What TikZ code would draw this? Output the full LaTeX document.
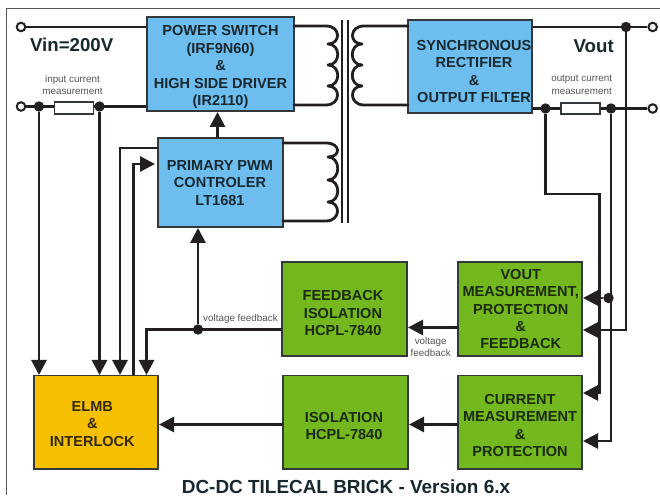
\documentclass[tikz,border=0pt]{standalone}
\usepackage{fontspec}
\setmainfont{Liberation Sans}
\usetikzlibrary{arrows.meta,calc}
\definecolor{wire}{HTML}{231F20}
\definecolor{edge}{HTML}{33393A}
\definecolor{swblue}{HTML}{6DBDEE}
\definecolor{swgreen}{HTML}{73B81F}
\definecolor{swyellow}{HTML}{F6C000}
\definecolor{inkb}{HTML}{17282F}
\definecolor{inkg}{HTML}{1C2A0E}
\definecolor{inky}{HTML}{33290A}
\definecolor{small}{HTML}{555555}
\tikzset{
  x=0.75pt,y=-0.75pt,
  block/.style={draw=edge,line width=1.2pt,inner sep=0pt},
  blue box/.style={block,fill=swblue},
  green box/.style={block,fill=swgreen},
  yellow box/.style={block,fill=swyellow},
  boxtext/.style={align=center,inner sep=0pt,font=\fontsize{10.9}{13.1}\selectfont\bfseries},
  bigtext/.style={inner sep=0pt,text=inkb,font=\fontsize{14}{16}\selectfont\bfseries},
  smalltext/.style={align=center,inner sep=0pt,text=small,font=\fontsize{7.4}{9.6}\selectfont},
  wireline/.style={draw=wire,line width=2.1pt,line join=miter},
  flow/.style={wireline,-{Triangle[length=11.25pt,width=11.25pt]}},
  coil/.style={draw=wire,line width=2.1pt,line join=round,line cap=round},
  core/.style={draw=wire,line width=1.9pt},
  terminal/.style={circle,draw=wire,fill=white,line width=1.5pt,minimum size=6.4pt,inner sep=0pt},
  dot/.style={circle,fill=wire,minimum size=7.8pt,inner sep=0pt},
  resistor/.style={draw=edge,fill=white,line width=1.2pt,minimum width=29.5pt,minimum height=8.6pt,inner sep=0pt},
}
\begin{document}
\begin{tikzpicture}
\useasboundingbox (0,0) rectangle (660,498);
\fill[white] (0,0) rectangle (660,498);
\draw[draw=small,line width=0.8pt] (660,8.5) -- (6.5,8.5) -- (6.5,495);

% terminals, junctions, resistors
\node[terminal] (inA) at (21,27) {};
\node[terminal] (inB) at (21,106.5) {};
\node[terminal] (outA) at (652.7,27) {};
\node[terminal] (outB) at (652.7,108.5) {};
\node[dot] (d1) at (39,106.5) {};
\node[dot] (d2) at (99.5,106.5) {};
\node[dot] (d3) at (545.5,108.5) {};
\node[dot] (d4) at (611,108.5) {};
\node[dot] (d5) at (626,27) {};
\node[dot] (d6) at (608.5,298) {};
\node[dot] (d7) at (198,329.5) {};

% anchor points on box edges
\coordinate (psWa) at (147,27);
\coordinate (psWb) at (147,106.5);
\coordinate (psEa) at (294,26);
\coordinate (psEb) at (294,105);
\coordinate (pwmWa) at (158,148);
\coordinate (pwmWb) at (155,164);
\coordinate (pwmEa) at (283,143);
\coordinate (pwmEb) at (283,221);
\coordinate (srWa) at (408,26);
\coordinate (srWb) at (408,105);
\coordinate (srEa) at (532,27);
\coordinate (srEb) at (532,108.5);
\coordinate (elTa) at (39,375);
\coordinate (elTb) at (99.5,375);
\coordinate (elTc) at (120,375);
\coordinate (elTd) at (133.5,375);
\coordinate (elTe) at (146.5,375);
\coordinate (fbE) at (408,327.5);
\coordinate (fbW) at (282,329.5);
\coordinate (voW) at (458,327.5);
\coordinate (voEa) at (583,298);
\coordinate (voEb) at (583,330);
\coordinate (cuEa) at (583,393);
\coordinate (cuEb) at (583,441);
\coordinate (cuW) at (458,424.5);
\coordinate (isE) at (409,424.5);
\coordinate (isW) at (283,424.5);
\coordinate (elE) at (159,424.5);
\coordinate (pwmS) at (198,228);
\coordinate (psS) at (217.5,112);
\coordinate (pwmN) at (217.5,138);

% wires under the blocks
\draw[wireline] (inA) -- (psWa);
\draw[wireline] (inB) -- (psWb);
\draw[wireline] (srEa) -- (outA);
\draw[wireline] (srEb) -- (outB);

% resistors
\node[resistor] (rin) at (74,108) {};
\node[resistor] (rout) at (580.5,108.5) {};

% blocks
\node[blue box,minimum width=110.25pt,minimum height=70.5pt] (ps) at (220.5,64) {};
\node[blue box,minimum width=93.75pt,minimum height=66.75pt] (pwm) at (220.5,182.5) {};
\node[blue box,minimum width=93pt,minimum height=69.75pt] (sr) at (470,66.5) {};
\node[yellow box,minimum width=93pt,minimum height=70.1pt] (elmb) at (96,422.3) {};
\node[green box,minimum width=93.75pt,minimum height=70.5pt] (fb) at (344.5,309) {};
\node[green box,minimum width=93.75pt,minimum height=70.1pt] (iso) at (345.5,422.3) {};
\node[green box,minimum width=93pt,minimum height=70.5pt] (vo) at (520,309) {};
\node[green box,minimum width=93pt,minimum height=70.1pt] (cu) at (520,422.3) {};

% block texts
\node[boxtext,text=inkb] (pst) at (220.5,67) {POWER SWITCH\\(IRF9N60)\\\&\\HIGH SIDE DRIVER\\(IR2110)};
\node[boxtext,text=inkb] (pwmt) at (220,183) {PRIMARY PWM\\CONTROLER\\LT1681};
\node[boxtext,text=inkb] (srt) at (474,71.7) {SYNCHRONOUS\\RECTIFIER\\\&\\OUTPUT FILTER};
\node[boxtext,text=inky] (elt) at (92.3,424) {ELMB\\\&\\INTERLOCK};
\node[boxtext,text=inkg] (fbt) at (343,313) {FEEDBACK\\ISOLATION\\HCPL-7840};
\node[boxtext,text=inkg] (ist) at (344,426) {ISOLATION\\HCPL-7840};
\node[boxtext,text=inkg] (vot) at (520.7,309) {VOUT\\MEASUREMENT,\\PROTECTION\\\&\\FEEDBACK};
\node[boxtext,text=inkg] (cut) at (520,425.5) {CURRENT\\MEASUREMENT\\\&\\PROTECTION};

% left side connectors
\draw[flow] (d1) -- (elTa);
\draw[flow] (d2) -- (elTb);
\draw[flow] (pwmWa) -- (120,148) -- (elTc);
\draw[flow] (elTd) -- (133.5,164) -- (pwmWb);
\draw[flow] (d7) -- (pwmS);
\draw[flow] (fbW) -- (146.5,329.5) -- (elTe);
\draw[flow] (pwmN) -- (psS);
\draw[flow] (isW) -- (elE);
\draw[flow] (cuW) -- (isE);
\draw[flow] (voW) -- (fbE);

% right side connectors
\draw[flow] (d3) -- (545.5,194) -- (599.5,194) -- (599.5,393) -- (cuEa);
\draw[flow] (d4) -- (611,441) -- (cuEb);
\draw[flow] (d5) -- (626,330) -- (voEb);
\draw[flow] (d6) -- (voEa);

% transformer core
\coordinate (coreAt) at (342,20);
\coordinate (coreAb) at (342,223);
\coordinate (coreBt) at (348,20);
\coordinate (coreBb) at (348,223);
\draw[core] (coreAt) -- (coreAb);
\draw[core] (coreBt) -- (coreBb);

% windings
\draw[coil] (psEa) -- (326,26)
  .. controls (341,26) and (341,44) .. (328,44)
  .. controls (341,44) and (341,65) .. (328,65)
  .. controls (341,65) and (341,86) .. (328,86)
  .. controls (341,86) and (341,105) .. (326,105) -- (psEb);
\draw[coil] (pwmEa) -- (326,143)
  .. controls (341,143) and (341,157) .. (328,157)
  .. controls (341,157) and (341,180) .. (328,180)
  .. controls (341,180) and (341,202) .. (328,202)
  .. controls (341,202) and (341,221) .. (326,221) -- (pwmEb);
\draw[coil] (srWa) -- (364,26)
  .. controls (349,26) and (349,44) .. (362,44)
  .. controls (349,44) and (349,65) .. (362,65)
  .. controls (349,65) and (349,86) .. (362,86)
  .. controls (349,86) and (349,105) .. (364,105) -- (srWb);

% free labels
\node[bigtext] (vin) at (71.7,45) {Vin=200V};
\node[bigtext] (vout) at (593.7,46) {Vout};
\node[smalltext] (lin) at (72.5,85) {input current\\measurement};
\node[smalltext] (lout) at (581.7,85) {output current\\measurement};
\node[smalltext] (lvf) at (240.5,319) {voltage feedback};
\node[smalltext] (lvf2) at (430.7,347) {voltage\\feedback};
\node[inner sep=0pt,text=inkb,font=\fontsize{14.2}{16}\selectfont\bfseries] (title) at (346,486.7) {DC-DC TILECAL BRICK - Version 6.x};
\end{tikzpicture}
\end{document}
